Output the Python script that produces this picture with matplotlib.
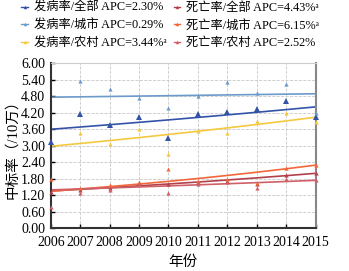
import matplotlib.pyplot as plt
import numpy as np

plt.rcParams['font.family'] = ['Liberation Serif', 'Noto Sans CJK SC', 'DejaVu Sans']
plt.rcParams['axes.unicode_minus'] = False

years = [2006, 2007, 2008, 2009, 2010, 2011, 2012, 2013, 2014, 2015]

# incidence (per 100k)
inc_all = [3.12, 4.15, 3.76, 4.04, 3.29, 4.15, 4.22, 4.33, 4.64, 4.04]
inc_city = [np.nan, 5.37, 5.07, 4.75, 4.38, 4.81, 5.32, 4.91, 5.24, 4.20]
inc_rural = [np.nan, 3.45, 3.05, 3.62, 2.69, 3.55, 3.48, 3.90, 4.20, 3.88]

# mortality
mor_city = [1.78, 1.47, 1.57, 1.69, 2.15, 1.70, 1.80, 1.63, 2.18, 2.30]
mor_all = [1.32, 1.39, 1.47, 1.63, 1.59, 1.66, 1.72, 1.59, 1.93, 1.99]
mor_rural = [0.75, 1.26, 1.39, 1.59, 1.26, 1.62, 1.67, 1.47, 1.79, 1.75]

# trend lines: value at 2006 and APC (%)
trend_start = [3.60, 4.77, 2.98, 1.35, 1.34, 1.39]
apc = [2.30, 0.29, 3.44, 4.43, 6.15, 2.52]

labels = ["发病率/全部 APC=2.30%",
          "发病率/城市 APC=0.29%",
          "发病率/农村 APC=3.44%ᵃ",
          "死亡率/全部 APC=4.43%ᵃ",
          "死亡率/城市 APC=6.15%ᵃ",
          "死亡率/农村 APC=2.52%"]
colors = ["#3353A8", "#6C9ACB", "#F5C93E", "#B2404C", "#F2673A", "#CF6068"]
points = [inc_all, inc_city, inc_rural, mor_all, mor_city, mor_rural]
msizes = [4, 3, 3, 3, 3, 3]

fig = plt.figure(figsize=(3.49, 2.71), dpi=100)
ax = fig.add_axes([0.1453, 0.1587, 0.7593, 0.607])

x = np.array(years)
handles = []
for pts, s0, r, c, ms in zip(points, trend_start, apc, colors, msizes):
    ax.plot(x, pts, linestyle="none", marker="^", markersize=ms, color=c,
            markeredgewidth=0, clip_on=False, zorder=3)
    trend = s0 * (1 + r / 100.0) ** (x - x[0])
    ax.plot(x, trend, color=c, linewidth=1.2, zorder=2)
    h, = ax.plot([], [], color=c, linewidth=1.0, marker="^", markersize=2.5,
                 markeredgewidth=0)
    handles.append(h)

ax.set_xlim(2006, 2015)
ax.set_ylim(0, 6)
ax.set_xticks(years)
ax.set_yticks(np.arange(0, 6.01, 0.6))
ax.set_yticklabels([f"{v:.2f}" for v in np.arange(0, 6.01, 0.6)])
ax.tick_params(axis="both", direction="in", labelsize=10, length=3, width=1)
ax.tick_params(axis="x", pad=6)
ax.tick_params(axis="y", pad=4)
ax.grid(True, color="#c8c8c8", linestyle="--", linewidth=0.6)
ax.set_axisbelow(True)
for side in ["left", "bottom"]:
    ax.spines[side].set_linewidth(1.5)
    ax.spines[side].set_color("#333333")
ax.spines["right"].set_linewidth(1.5)
ax.spines["right"].set_color("#888888")
ax.spines["top"].set_linewidth(0.8)
ax.spines["top"].set_color("#cccccc")

ax.set_xlabel("年份", fontsize=10.5, labelpad=4)
ax.set_ylabel("中标率（/10万）", fontsize=10.5, labelpad=1)

fig.legend(handles, labels, ncol=2, loc="upper left",
           bbox_to_anchor=(0.04, 1.02), frameon=False, fontsize=8.8,
           handlelength=0.55, handletextpad=0.45, columnspacing=0.6,
           labelspacing=0.46, borderaxespad=0.2)

fig.savefig("out.png", dpi=100)
